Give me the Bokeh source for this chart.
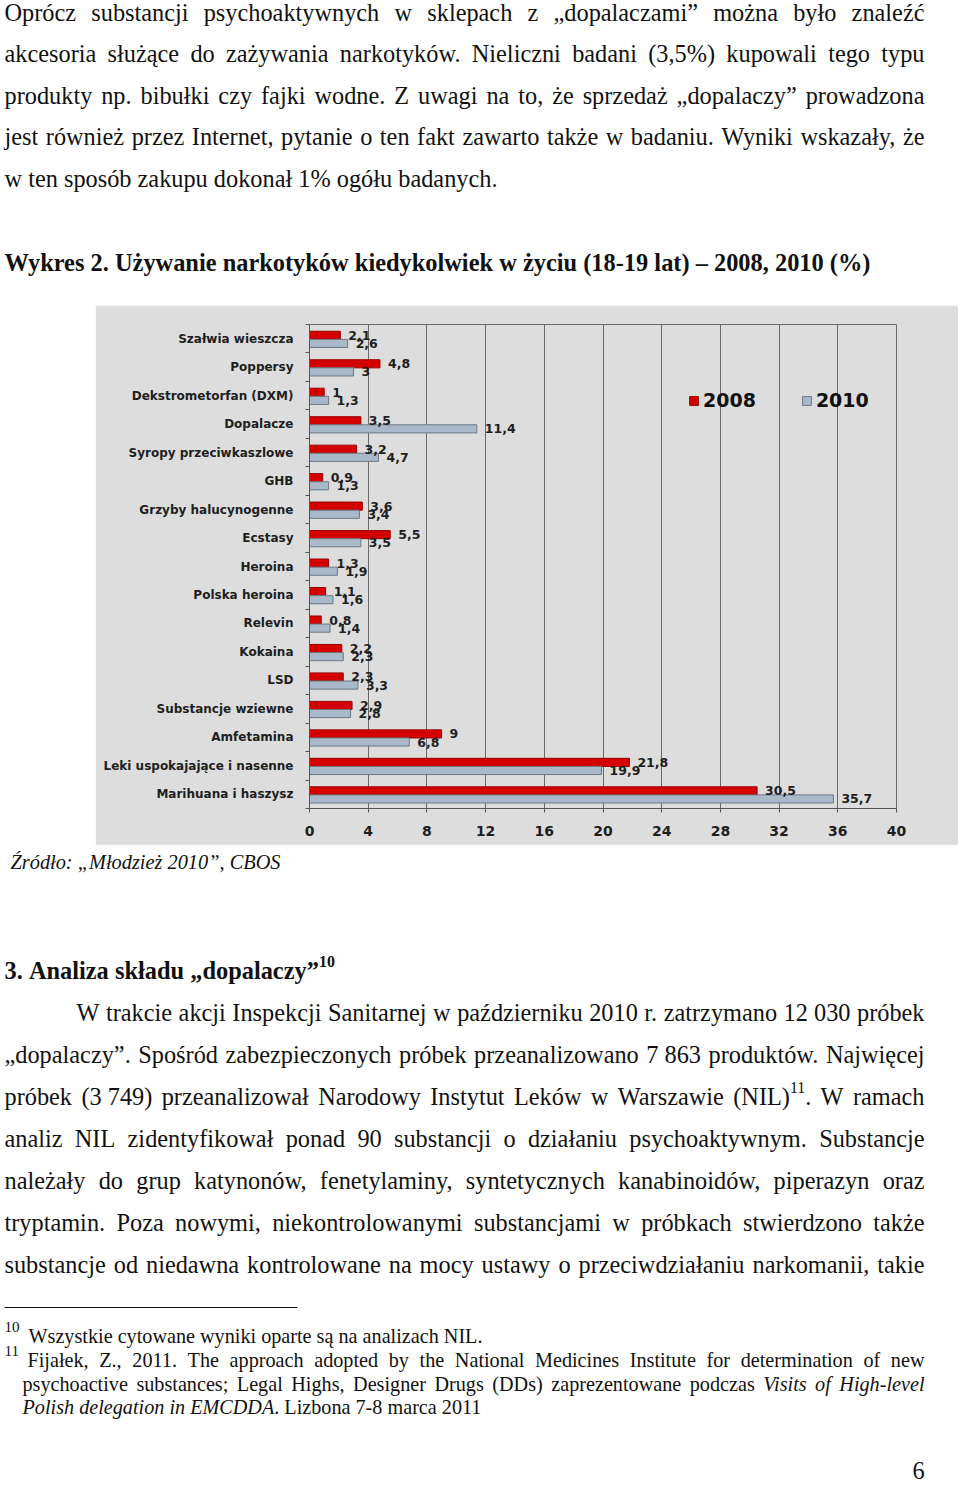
import re
import glob
from bokeh.plotting import figure
from bokeh.models import ColumnDataSource, Range1d, FixedTicker, Legend, LegendItem, Spacer
from bokeh.layouts import column, row
from bokeh.transform import dodge
from bokeh.core.properties import value, field
from bokeh.embed import file_html
from bokeh.resources import INLINE

# ---------------- chart data ----------------
categories = [
    "Szałwia wieszcza", "Poppersy", "Dekstrometorfan (DXM)", "Dopalacze",
    "Syropy przeciwkaszlowe", "GHB", "Grzyby halucynogenne", "Ecstasy",
    "Heroina", "Polska heroina", "Relevin", "Kokaina", "LSD",
    "Substancje wziewne", "Amfetamina", "Leki uspokajające i nasenne",
    "Marihuana i haszysz",
]
values_2008 = [2.1, 4.8, 1.0, 3.5, 3.2, 0.9, 3.6, 5.5, 1.3, 1.1, 0.8, 2.2, 2.3, 2.9, 9.0, 21.8, 30.5]
values_2010 = [2.6, 3.0, 1.3, 11.4, 4.7, 1.3, 3.4, 3.5, 1.9, 1.6, 1.4, 2.3, 3.3, 2.8, 6.8, 19.9, 35.7]
series_names = ["2008", "2010"]
x_ticks = [0, 4, 8, 12, 16, 20, 24, 28, 32, 36, 40]

# ---------------- page text ----------------
para_top = [
    "Oprócz substancji psychoaktywnych w sklepach z „dopalaczami” można było znaleźć",
    "akcesoria służące do zażywania narkotyków. Nieliczni badani (3,5%) kupowali tego typu",
    "produkty np. bibułki czy fajki wodne. Z uwagi na to, że sprzedaż „dopalaczy” prowadzona",
    "jest również przez Internet, pytanie o ten fakt zawarto także w badaniu. Wyniki wskazały, że",
    "w ten sposób zakupu dokonał 1% ogółu badanych.",
]
chart_title = "Wykres 2. Używanie narkotyków kiedykolwiek w życiu (18-19 lat) – 2008, 2010 (%)"
source_text = "*Źródło: „Młodzież 2010”, CBOS*"
section_title = "3. Analiza składu „dopalaczy”^{10}"
para_bottom = [
    "W trakcie akcji Inspekcji Sanitarnej w październiku 2010 r. zatrzymano 12\u00a0030 próbek",
    "„dopalaczy”. Spośród zabezpieczonych próbek przeanalizowano 7\u00a0863 produktów. Najwięcej",
    "próbek (3\u00a0749) przeanalizował Narodowy Instytut Leków w Warszawie (NIL)^{11}. W ramach",
    "analiz NIL zidentyfikował ponad 90 substancji o działaniu psychoaktywnym. Substancje",
    "należały do grup katynonów, fenetylaminy, syntetycznych kanabinoidów, piperazyn oraz",
    "tryptamin. Poza nowymi, niekontrolowanymi substancjami w próbkach stwierdzono także",
    "substancje od niedawna kontrolowane na mocy ustawy o przeciwdziałaniu narkomanii, takie",
]
footnote_10 = "Wszystkie cytowane wyniki oparte są na analizach NIL."
footnote_11 = [
    "Fijałek, Z., 2011. The approach adopted by the National Medicines Institute for determination of new",
    "psychoactive substances; Legal Highs, Designer Drugs (DDs) zaprezentowane podczas *Visits of High-level*",
    "*Polish delegation in EMCDDA*. Lizbona 7-8 marca 2011",
]
page_number = "6"

# ---------------- text measuring (Liberation Serif ~ Times) ----------------
try:
    from PIL import ImageFont
except Exception:
    ImageFont = None

SERIF_FILES = {
    "normal": "LiberationSerif-Regular.ttf",
    "bold": "LiberationSerif-Bold.ttf",
    "italic": "LiberationSerif-Italic.ttf",
    "bold italic": "LiberationSerif-BoldItalic.ttf",
}
_fonts = {}


def _find(fname):
    for base in ["/usr/share/fonts", "/usr/local/share/fonts", "/usr/lib/fonts"]:
        hits = glob.glob(base + "/**/" + fname, recursive=True)
        if hits:
            return hits[0]
    return None


def measure(text, style, size):
    if style not in _fonts:
        f = None
        if ImageFont is not None:
            path = _find(SERIF_FILES[style])
            if path:
                try:
                    f = ImageFont.truetype(path, 200)
                except Exception:
                    f = None
        _fonts[style] = f
    f = _fonts[style]
    if f is None:
        return len(text) * size * (0.5 if "bold" in style else 0.45)
    return f.getlength(text) * size / 200.0


def fit(text, style, width):
    return width / measure(text, style, 1.0)


def sty(bold, italic):
    if bold and italic:
        return "bold italic"
    if bold:
        return "bold"
    if italic:
        return "italic"
    return "normal"


def parse(line, bold=False):
    words = [[]]
    italic = False
    for seg in re.split(r"(\*|\^\{[^}]*\})", line):
        if seg == "*":
            italic = not italic
            continue
        if seg.startswith("^{"):
            words[-1].append((seg[2:-1], sty(bold, italic), "sup"))
            continue
        parts = seg.split(" ")
        for k, part in enumerate(parts):
            if k > 0:
                words.append([])
            if part:
                words[-1].append((part, sty(bold, italic), "norm"))
    return [w for w in words if w]


def new_rows():
    return dict(x=[], y=[], t=[], fs=[], fz=[])


def place(rows, line, x0, y, size, x1=None, bold=False):
    words = parse(line, bold)

    def metrics(run):
        sz = size * 0.65 if run[2] == "sup" else size
        return sz, measure(run[0], run[1], sz)

    widths = [sum(metrics(r)[1] for r in w) for w in words]
    if x1 is not None and len(words) > 1:
        gap = (x1 - x0 - sum(widths)) / (len(words) - 1)
    else:
        gap = measure(" ", "bold" if bold else "normal", size)
    x = x0
    for w, wd in zip(words, widths):
        xx = x
        for r in w:
            sz, rw = metrics(r)
            dy = -size * 0.36 if r[2] == "sup" else 0.0
            rows["x"].append(xx)
            rows["y"].append(y + dy)
            rows["t"].append(r[0])
            rows["fs"].append(r[1])
            rows["fz"].append(f"{sz:.2f}px")
            xx += rw
        x += wd + gap


body_size = fit(para_top[-1], "normal", 493)
head_size = fit(chart_title, "bold", 866)
src_size = fit("Źródło: „Młodzież 2010”, CBOS", "italic", 270)
fn_size = fit(footnote_10, "normal", 454)

TEXT_COLOR = "#111111"


def page_fig(h, ytop, ybot):
    p = figure(width=960, height=h, x_range=Range1d(0, 960), y_range=Range1d(ybot, ytop),
               output_backend="svg", toolbar_location=None, min_border=0,
               x_axis_type=None, y_axis_type=None)
    p.outline_line_color = None
    p.background_fill_color = "white"
    p.border_fill_color = "white"
    return p


def draw_rows(p, rows):
    p.text(x="x", y="y", text="t", source=ColumnDataSource(rows),
           text_font=value("Liberation Serif"), text_font_style=field("fs"),
           text_font_size=field("fz"), text_baseline="alphabetic", text_align="left",
           text_color=TEXT_COLOR)


# ---- top part of the page (page y 0..305) ----
top = page_fig(305, 0, 305)
rows_top = new_rows()
top_baselines = [12, 53, 94.5, 136, 178]
for i, (ln, yb) in enumerate(zip(para_top, top_baselines)):
    last = i == len(para_top) - 1
    place(rows_top, ln, 4, yb, body_size, x1=None if last else 924)
place(rows_top, chart_title, 4, 262, head_size, bold=True)
draw_rows(top, rows_top)

# ---- chart ----
n = len(categories)
ypos = [n - 0.5 - i for i in range(n)]


def fmt(v):
    return f"{v:g}".replace(".", ",")


src = ColumnDataSource(dict(
    cat=categories, y=ypos, v08=values_2008, v10=values_2010,
    l08=[fmt(v) for v in values_2008], l10=[fmt(v) for v in values_2010],
))

GRAY = "#dddddd"
c = figure(width=863, height=540, x_range=Range1d(0, 40), y_range=Range1d(0, n),
           output_backend="svg", toolbar_location=None,
           min_border_left=214, min_border_right=62, min_border_top=19, min_border_bottom=37)
c.background_fill_color = GRAY
c.border_fill_color = GRAY
c.outline_line_color = "#6a6a6a"

OFF08, OFF10, BH = 0.12, -0.165, 0.285
r08 = c.hbar(y=dodge("y", OFF08), left=0, right="v08", height=BH, source=src,
             fill_color="#d40000", line_color="#9a0000", line_width=1)
r10 = c.hbar(y=dodge("y", OFF10), left=0, right="v10", height=BH, source=src,
             fill_color="#a9b9c9", line_color="#6d7782", line_width=1)

lab_kw = dict(source=src, x_offset=8, text_baseline="middle", text_align="left",
              text_font=value("DejaVu Sans"), text_font_style=value("bold"),
              text_font_size=value("12.5px"), text_color="#1e1e1e")
c.text(x="v08", y=dodge("y", OFF08), text="l08", **lab_kw)
c.text(x="v10", y=dodge("y", OFF10), text="l10", **lab_kw)

xt = FixedTicker(ticks=x_ticks)
c.xaxis.ticker = xt
c.xgrid.ticker = xt
c.xgrid.grid_line_color = "#6a6a6a"
c.xgrid.grid_line_width = 1
c.ygrid.grid_line_color = None
c.xaxis.axis_line_color = "#555555"
c.xaxis.major_tick_line_color = "#555555"
c.xaxis.major_tick_out = 4
c.xaxis.major_tick_in = 0
c.xaxis.minor_tick_line_color = None
c.xaxis.major_label_standoff = 13
c.xaxis.major_label_text_font = "DejaVu Sans"
c.xaxis.major_label_text_font_style = "bold"
c.xaxis.major_label_text_font_size = "14px"
c.xaxis.major_label_text_color = "#1e1e1e"

c.yaxis.ticker = FixedTicker(ticks=ypos, minor_ticks=list(range(n + 1)))
c.yaxis.major_label_overrides = {float(y): cat for y, cat in zip(ypos, categories)}
c.yaxis.axis_line_color = "#555555"
c.yaxis.major_tick_line_color = None
c.yaxis.major_tick_out = 0
c.yaxis.major_tick_in = 0
c.yaxis.minor_tick_line_color = "#555555"
c.yaxis.minor_tick_out = 4
c.yaxis.minor_tick_in = 0
c.yaxis.major_label_standoff = 12
c.yaxis.major_label_text_font = "DejaVu Sans"
c.yaxis.major_label_text_font_style = "bold"
c.yaxis.major_label_text_font_size = "12px"
c.yaxis.major_label_text_color = "#1e1e1e"

legend = Legend(
    items=[LegendItem(label=series_names[0], renderers=[r08]),
           LegendItem(label=series_names[1], renderers=[r10])],
    orientation="horizontal", location=(379, 397),
    background_fill_alpha=0, border_line_color=None, padding=0, margin=0,
    spacing=45, glyph_width=11, glyph_height=11, label_standoff=4,
    label_text_font="DejaVu Sans", label_text_font_style="bold",
    label_text_font_size="19px", label_text_color="#111111",
)
c.add_layout(legend)

chart_row = row(Spacer(width=95, height=540), c)

# ---- bottom part of the page (page y 845..1485) ----
bot = page_fig(640, 845, 1485)
rows_b = new_rows()
place(rows_b, source_text, 10, 861, src_size)
place(rows_b, section_title, 4, 970, head_size, bold=True)
p_base = [1012, 1054, 1096, 1138, 1180, 1222, 1264]
for i, (ln, yb) in enumerate(zip(para_bottom, p_base)):
    place(rows_b, ln, 76 if i == 0 else 4, yb, body_size, x1=924)
place(rows_b, "^{10}", 4, 1335, fn_size * 1.15)
place(rows_b, footnote_10, 28, 1335, fn_size)
place(rows_b, "^{11}", 4, 1359, fn_size * 1.15)
place(rows_b, footnote_11[0], 27, 1359, fn_size, x1=924)
place(rows_b, footnote_11[1], 22, 1383, fn_size, x1=924)
place(rows_b, footnote_11[2], 22, 1406, fn_size)
place(rows_b, page_number, 912, 1470, body_size)
draw_rows(bot, rows_b)
bot.segment(x0=[4], y0=[1307], x1=[297], y1=[1307], line_color="#111111", line_width=1)

layout = column(top, chart_row, bot)

with open("out.html", "w") as fh:
    fh.write(file_html(layout, INLINE))
